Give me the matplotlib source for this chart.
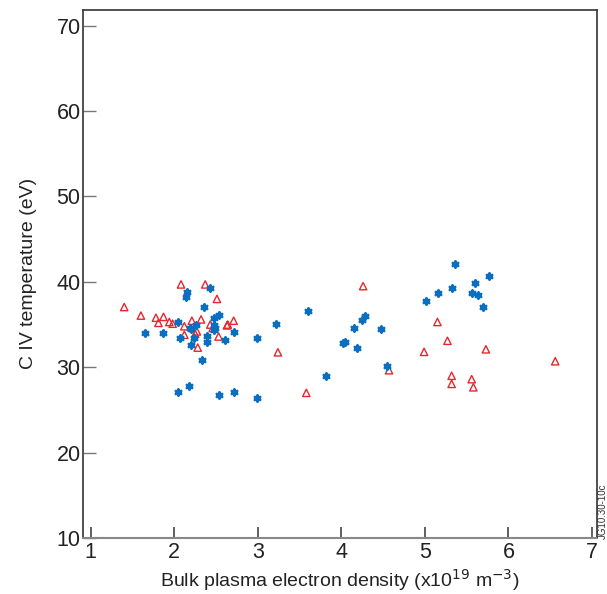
import matplotlib
matplotlib.use("Agg")
import matplotlib.pyplot as plt

plt.rcParams['font.family'] = ['Liberation Sans', 'DejaVu Sans']

# Blue asterisks
blue_x = [2.15, 2.14, 2.43, 2.35, 2.04, 1.65, 1.87, 2.07, 2.20, 2.26, 2.24, 2.20,
          2.39, 2.39, 2.47, 2.48, 2.47, 2.53, 2.49, 2.61, 2.72, 2.33, 2.04, 2.17,
          2.54, 2.72, 2.19, 2.99, 2.99, 3.22, 3.60, 3.81, 4.02, 4.04, 4.19, 4.15,
          4.25, 4.28, 4.48, 4.55, 5.01, 5.36, 5.77, 5.60, 5.33, 5.16, 5.56, 5.64,
          5.70]
blue_y = [38.8, 38.2, 39.3, 37.05, 35.3, 34.0, 34.0, 33.4, 34.5, 35.0, 33.4, 32.6,
          33.6, 33.0, 35.8, 35.0, 34.4, 36.1, 34.6, 33.2, 34.1, 30.9, 27.1, 27.8,
          26.7, 27.1, 34.55, 33.4, 26.4, 35.1, 36.6, 29.0, 32.8, 33.0, 32.2, 34.6,
          35.5, 36.05, 34.5, 30.2, 37.8, 42.1, 40.7, 39.9, 39.3, 38.7, 38.65, 38.5,
          37.1]

# Red open triangles
red_x = [2.08, 2.37, 2.51, 1.40, 1.60, 1.78, 1.87, 1.81, 1.94, 1.98, 2.12, 2.21,
         2.32, 2.12, 2.27, 2.25, 2.28, 2.53, 2.43, 2.63, 2.64, 2.71, 2.46,
         4.26, 3.24, 3.58, 4.57, 4.99, 5.15, 5.27, 5.73, 6.56, 5.32, 5.32, 5.56, 5.58]
red_y = [39.7, 39.7, 38.0, 37.05, 36.05, 35.8, 35.9, 35.2, 35.3, 35.1, 34.8, 35.45,
         35.6, 33.8, 34.2, 33.9, 32.3, 33.6, 35.0, 34.9, 35.0, 35.45, 34.6,
         39.5, 31.75, 27.0, 29.65, 31.8, 35.3, 33.1, 32.1, 30.7, 29.0, 28.05, 28.6, 27.65]

x_ticks = [1, 2, 3, 4, 5, 6, 7]
y_ticks = [10, 20, 30, 40, 50, 60, 70]

fig = plt.figure(figsize=(6.07, 5.94), dpi=100)
ax = fig.add_axes([0.1372, 0.0943, 0.8463, 0.8897])

ax.scatter(red_x, red_y, marker='^', s=28, facecolors='none',
           edgecolors='#e8262e', linewidths=1.0, zorder=3)
ax.scatter(blue_x, blue_y, marker=(6, 2, 0), s=18, color='#0a6fc0',
           linewidths=1.9, zorder=4)

ax.set_xlim(0.91, 7.06)
ax.set_ylim(10, 71.9)
ax.set_xticks(x_ticks)
ax.set_yticks(y_ticks)
ax.tick_params(axis='both', direction='in', labelsize=15.5, colors='#222222',
               pad=3)
ax.tick_params(axis='x', length=8, width=1.2, color='#444444')
ax.tick_params(axis='y', length=9, width=1.0, color='#777777', pad=2)
for s in ['left', 'top', 'right']:
    ax.spines[s].set_color('#333333')
    ax.spines[s].set_linewidth(1.2)
ax.spines['bottom'].set_color('#888888')
ax.spines['bottom'].set_linewidth(1.5)

ax.set_xlabel('Bulk plasma electron density (x10$^{19}$ m$^{-3}$)',
              fontsize=14, color='#222222', labelpad=3)
ax.set_ylabel('C IV temperature (eV)', fontsize=14, color='#222222', labelpad=14)

fig.text(0.9935, 0.093, 'JG10.30-10c', rotation=90, ha='center', va='bottom',
         fontsize=7, color='#333333')

fig.savefig('out.png', dpi=100)
